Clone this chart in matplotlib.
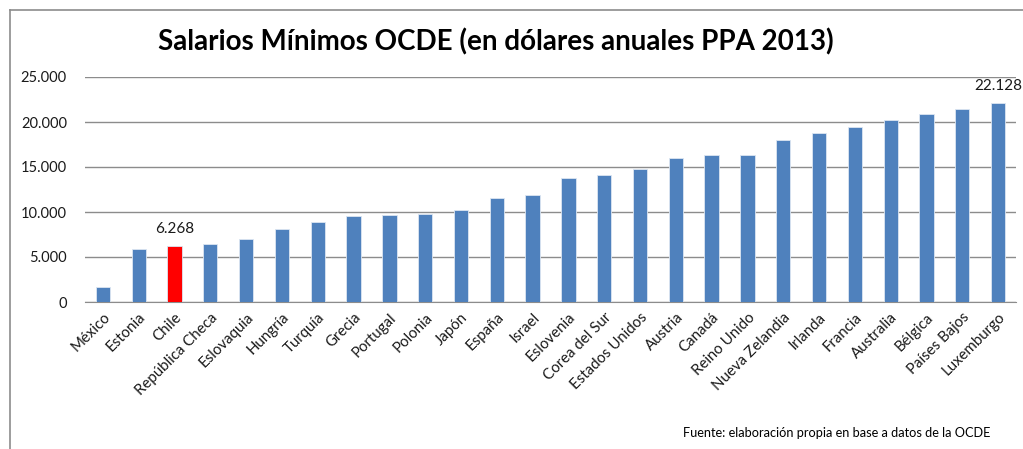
import matplotlib.pyplot as plt
from matplotlib.lines import Line2D
from matplotlib.ticker import FuncFormatter

plt.rcParams['font.family'] = ['Lato', 'DejaVu Sans']

paises = ["México", "Estonia", "Chile", "República Checa", "Eslovaquia", "Hungría",
          "Turquía", "Grecia", "Portugal", "Polonia", "Japón", "España", "Israel",
          "Eslovenia", "Corea del Sur", "Estados Unidos", "Austria", "Canadá",
          "Reino Unido", "Nueva Zelandia", "Irlanda", "Francia", "Australia",
          "Bélgica", "Países Bajos", "Luxemburgo"]
salarios = [1700, 5900, 6268, 6480, 7030, 8070, 8920, 9510, 9660, 9810, 10220,
            11560, 11850, 13740, 14150, 14740, 16030, 16330, 16330, 17960, 18810,
            19400, 20260, 20850, 21440, 22128]
etiquetas = {"Chile": "6.268", "Luxemburgo": "22.128"}

colores = ["#FF0000" if p == "Chile" else "#4F81BD" for p in paises]

fig = plt.figure(figsize=(10.23, 4.49), dpi=100)
ax = fig.add_axes([85 / 1023, 1 - 302 / 449, (1016 - 85) / 1023, 225 / 449])

x = range(len(paises))
ax.bar(x, salarios, width=0.4, color=colores, edgecolor="#DCE6F2", linewidth=0.6, zorder=3)

ax.set_xlim(-0.5, len(paises) - 0.5)
ax.set_ylim(0, 25000)
ax.set_yticks(range(0, 25001, 5000))
ax.yaxis.set_major_formatter(FuncFormatter(lambda v, p: f"{int(v):,}".replace(",", ".")))
ax.grid(axis="y", color="#8C8C8C", linewidth=1, zorder=0)
for s in ["top", "right", "left"]:
    ax.spines[s].set_visible(False)
ax.spines["bottom"].set_color("#8C8C8C")
ax.tick_params(axis="y", length=0, pad=13, labelsize=10.5, labelcolor="#1A1A1A")
ax.tick_params(axis="x", length=0, pad=6)
ax.set_xticks(list(x))
ax.set_xticklabels(paises, rotation=45, ha="right", rotation_mode="anchor",
                   fontsize=10.8, color="#1A1A1A")

for i, p in enumerate(paises):
    if p in etiquetas:
        ax.annotate(etiquetas[p], (i, salarios[i]), xytext=(0, 7), textcoords="offset points",
                    ha="center", va="bottom", fontsize=11, color="#1A1A1A")

fig.text(496 / 1023, 1 - 42 / 449, "Salarios Mínimos OCDE (en dólares anuales PPA 2013)",
         ha="center", va="center", fontsize=20, fontweight="bold")
fig.text(990 / 1023, 1 - 433 / 449, "Fuente: elaboración propia en base a datos de la OCDE",
         ha="right", va="center", fontsize=9.2)

# marco del gráfico
fig.add_artist(Line2D([10 / 1023, 1], [1 - 9.5 / 449] * 2, color="#8C8C8C", linewidth=1.2,
                      transform=fig.transFigure))
fig.add_artist(Line2D([10 / 1023] * 2, [0, 1 - 9.5 / 449], color="#8C8C8C", linewidth=1.2,
                      transform=fig.transFigure))

fig.savefig("out.png", dpi=100)
